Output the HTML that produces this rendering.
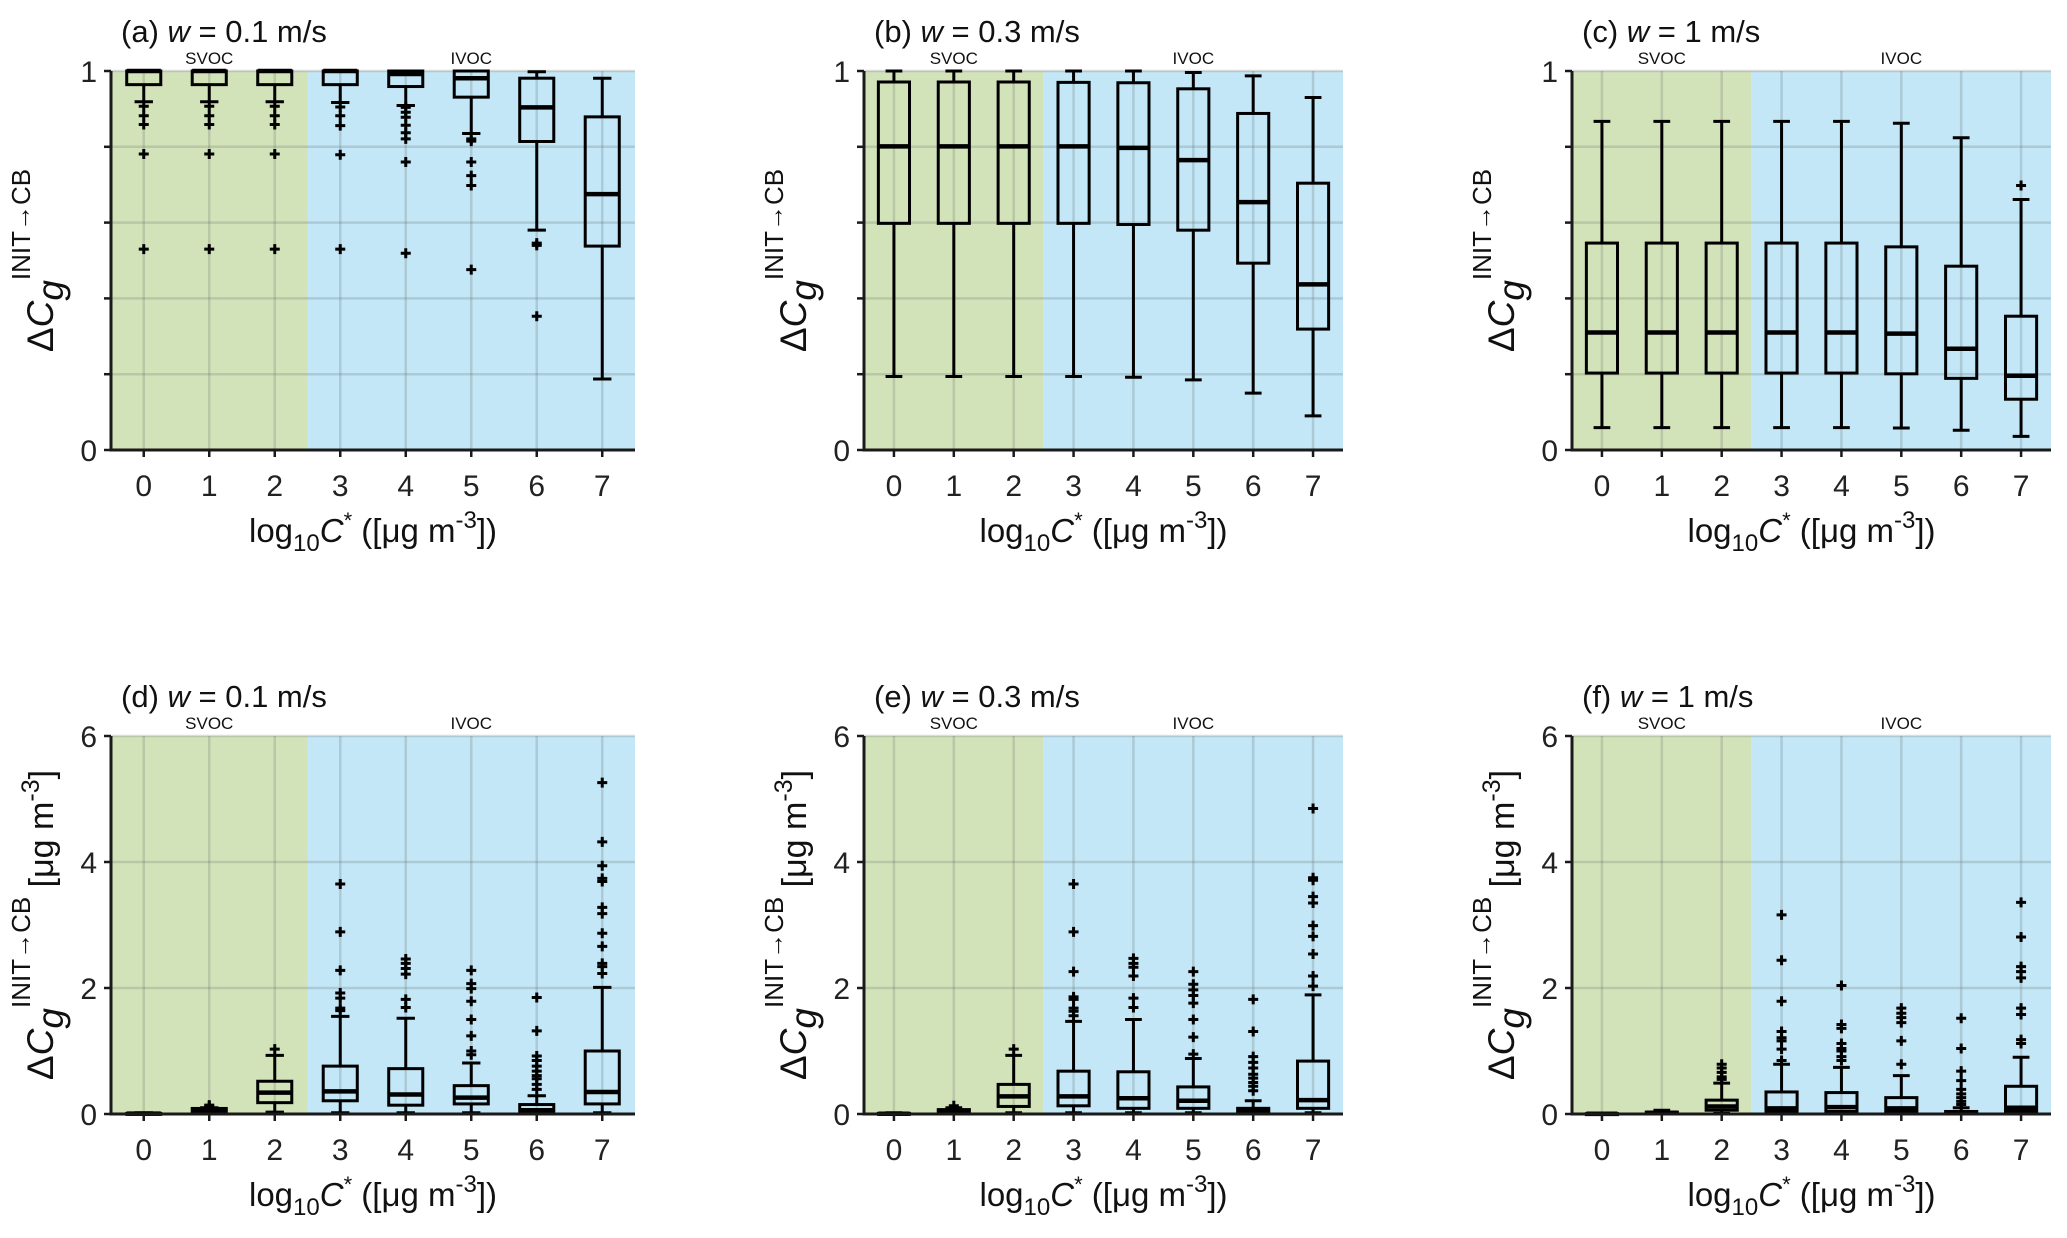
<!DOCTYPE html>
<html><head><meta charset="utf-8"><style>
html,body{margin:0;padding:0;background:#fff}
svg{display:block;font-family:"Liberation Sans",Arial,sans-serif}
</style></head><body>
<svg id="fig" width="2067" height="1238" viewBox="0 0 2067 1238" xmlns="http://www.w3.org/2000/svg"></svg>
<script>
const categories=[0,1,2,3,4,5,6,7];
// Panel a (fraction)
const aMed=[1,1,1,1,0.992,0.981,0.904,0.675];
const aQ1=[0.964,0.964,0.964,0.964,0.959,0.931,0.814,0.538];
const aQ3=[1,1,1,1,1,1,0.981,0.879];
const aLo=[0.919,0.919,0.919,0.917,0.909,0.835,0.580,0.1875];
const aHi=[1,1,1,1,1,1,0.998,0.981];
const aOut=[[0.907,0.882,0.859,0.781,0.530],[0.907,0.882,0.859,0.781,0.530],[0.907,0.882,0.859,0.781,0.530],[0.905,0.882,0.856,0.779,0.530],[0.904,0.891,0.878,0.857,0.837,0.821,0.760,0.519],[0.821,0.815,0.760,0.724,0.698,0.476],[0.546,0.540,0.353],[]];
// Panel b
const bMed=[0.801,0.801,0.801,0.801,0.797,0.765,0.654,0.437];
const bQ1=[0.598,0.598,0.598,0.598,0.595,0.580,0.493,0.319];
const bQ3=[0.971,0.971,0.971,0.970,0.969,0.953,0.888,0.704];
const bLo=[0.194,0.194,0.194,0.194,0.192,0.185,0.150,0.090];
const bHi=[1,1,1,1,1,0.996,0.987,0.930];
const bOut=[[],[],[],[],[],[],[],[]];
// Panel c
const cMed=[0.310,0.310,0.310,0.310,0.310,0.307,0.267,0.196];
const cQ1=[0.203,0.203,0.203,0.203,0.203,0.201,0.189,0.134];
const cQ3=[0.546,0.546,0.546,0.546,0.546,0.536,0.485,0.353];
const cLo=[0.059,0.059,0.059,0.059,0.059,0.058,0.052,0.036];
const cHi=[0.867,0.867,0.867,0.867,0.867,0.862,0.824,0.661];
const cOut=[[],[],[],[],[],[],[],[0.698]];
// Panel d (ug m-3)
const dMed=[0.005,0.065,0.34,0.36,0.31,0.26,0.06,0.35];
const dQ1=[0,0.047,0.18,0.21,0.14,0.16,0.02,0.16];
const dQ3=[0.01,0.088,0.52,0.76,0.72,0.45,0.15,1.0];
const dLo=[0,0.03,0.03,0.02,0.02,0.02,0,0.02];
const dHi=[0.02,0.10,0.93,1.55,1.52,0.81,0.29,2.01];
const dOut=[[],[0.12,0.14],[1.03],[3.65,2.89,2.28,1.92,1.84,1.68,1.64],[2.46,2.39,2.31,2.22,1.82,1.69],[2.28,2.07,1.99,1.79,1.5,1.24,1.0,0.94],[1.85,1.32,0.92,0.85,0.76,0.68,0.61,0.56,0.47,0.39],[5.26,4.32,3.94,3.74,3.69,3.28,3.18,2.87,2.66,2.39,2.34,2.23]];
// Panel e
const eMed=[0.004,0.04,0.28,0.28,0.25,0.21,0.04,0.22];
const eQ1=[0,0.02,0.12,0.13,0.09,0.09,0.01,0.09];
const eQ3=[0.01,0.07,0.47,0.68,0.67,0.43,0.09,0.84];
const eLo=[0,0.01,0.02,0.02,0.02,0.02,0,0.02];
const eHi=[0.02,0.10,0.93,1.47,1.5,0.88,0.21,1.89];
const eOut=[[],[0.13],[1.03],[3.65,2.89,2.26,1.86,1.82,1.68,1.63,1.56],[2.47,2.39,2.33,2.19,1.84,1.69],[2.26,2.06,1.97,1.88,1.76,1.5,1.22,0.95],[1.82,1.31,0.91,0.82,0.73,0.63,0.57,0.5,0.44,0.37],[4.85,3.75,3.71,3.45,3.35,2.99,2.82,2.54,2.19,2.03]];
// Panel f
const fMed=[0.003,0.02,0.12,0.09,0.11,0.09,0.02,0.10];
const fQ1=[0,0.01,0.06,0.04,0.04,0.035,0.01,0.04];
const fQ3=[0.006,0.03,0.22,0.35,0.34,0.26,0.04,0.44];
const fLo=[0,0,0.01,0.01,0.01,0.01,0,0.01];
const fHi=[0.01,0.06,0.49,0.79,0.74,0.61,0.10,0.90];
const fOut=[[],[],[0.79,0.73,0.66,0.59,0.55],[3.16,2.44,1.79,1.31,1.21,1.16,1.03,0.85],[2.04,1.42,1.36,1.12,1.04,1.0,0.91,0.85],[1.68,1.6,1.53,1.45,1.16,0.79],[1.52,1.04,0.68,0.53,0.39,0.32,0.26,0.2,0.15],[3.36,2.81,2.34,2.26,2.16,1.68,1.58,1.18,1.12]];
const topTicks=[0,1];
const topGrid=[0.2,0.4,0.6,0.8,1];
const botTicks=[0,2,4,6];
const botGrid=[2,4,6];

const NS="http://www.w3.org/2000/svg";
const svg=document.getElementById('fig');
function mk(tag,attrs,parent){const e=document.createElementNS(NS,tag);for(const k in attrs)e.setAttribute(k,attrs[k]);(parent||svg).appendChild(e);return e;}

function drawPanel(p){
  const g=mk('g',{});
  
  
  const L=p.L,R=p.R,T=p.T,B=p.B;
  const xs=v=>L+(v+0.5)/8*(R-L);
  const ys=v=>B-(v-p.ymin)/(p.ymax-p.ymin)*(B-T);
  const unit=(R-L)/8;
  const sv=mk('rect',{x:L,y:T,width:xs(2.5)-L,height:B-T,fill:'#d3e3b9'},g);
  
  
  const iv=mk('rect',{x:xs(2.5),y:T,width:R-xs(2.5),height:B-T,fill:'#c3e7f7'},g);
  
  
  p.grid.forEach(v=>{const l=mk('line',{x1:L,x2:R,y1:ys(v),y2:ys(v),stroke:'rgba(90,100,100,0.22)','stroke-width':2.5},g);
    });
  categories.forEach(c=>{const l=mk('line',{x1:xs(c),x2:xs(c),y1:T,y2:B,stroke:'rgba(90,100,100,0.22)','stroke-width':2.5},g);
    });
  categories.forEach((c,i)=>{
    const bg=mk('g',{},g);
    
    
    const cx=xs(c),hw=unit*0.26,cw=unit*0.14;
    mk('line',{x1:cx,x2:cx,y1:ys(p.hi[i]),y2:ys(p.q3[i]),stroke:'#000','stroke-width':3},bg);
    mk('line',{x1:cx,x2:cx,y1:ys(p.q1[i]),y2:ys(p.lo[i]),stroke:'#000','stroke-width':3},bg);
    mk('line',{x1:cx-cw,x2:cx+cw,y1:ys(p.hi[i]),y2:ys(p.hi[i]),stroke:'#000','stroke-width':3},bg);
    mk('line',{x1:cx-cw,x2:cx+cw,y1:ys(p.lo[i]),y2:ys(p.lo[i]),stroke:'#000','stroke-width':3},bg);
    mk('rect',{x:cx-hw,y:ys(p.q3[i]),width:2*hw,height:Math.max(ys(p.q1[i])-ys(p.q3[i]),1),fill:'none',stroke:'#000','stroke-width':3},bg);
    mk('line',{x1:cx-hw,x2:cx+hw,y1:ys(p.med[i]),y2:ys(p.med[i]),stroke:'#000','stroke-width':4.5},bg);
    p.out[i].forEach(v=>{
      const o=mk('path',{d:`M${cx-5},${ys(v)}h10M${cx},${ys(v)-5}v10`,stroke:'#000','stroke-width':3},bg);
      
      
    });
  });
  const ax=mk('path',{d:`M${L},${T}V${B}H${R}`,fill:'none',stroke:'#1a1a1a','stroke-width':3},g);
  
  categories.forEach(c=>{
    mk('line',{x1:xs(c),x2:xs(c),y1:B,y2:B+7,stroke:'#1a1a1a','stroke-width':2.5},g);
    const t=mk('text',{x:xs(c),y:B+46,'text-anchor':'middle','font-size':30,fill:'#222'},g);
    t.textContent=c;
    
  });
  [p.ymin].concat(p.grid).forEach(v=>mk('line',{x1:L-7,x2:L,y1:ys(v),y2:ys(v),stroke:'#1a1a1a','stroke-width':2.5},g));
  p.ticks.forEach(v=>{
    const t=mk('text',{x:L-14,y:ys(v)+11,'text-anchor':'end','font-size':30,fill:'#222'},g);
    t.textContent=v;
    
  });
  const s1=mk('text',{x:xs(1),y:T-7,'text-anchor':'middle','font-size':17,fill:'#111'},g);s1.textContent='SVOC';
  
  const s2=mk('text',{x:xs(5),y:T-7,'text-anchor':'middle','font-size':17,fill:'#111'},g);s2.textContent='IVOC';
  
  const ti=mk('text',{x:L+10,y:T-29,'font-size':31,fill:'#111'},g);
  ti.innerHTML=`${p.lbl} <tspan font-style="italic">w</tspan> = ${p.w} m/s`;
  
  const xl=mk('text',{x:(L+R)/2,y:B+92,'text-anchor':'middle','font-size':33,fill:'#111'},g);
  xl.innerHTML='log<tspan dy="9" font-size="24">10</tspan><tspan dy="-9" font-style="italic">C</tspan><tspan dy="-14" font-size="22">*</tspan><tspan dy="14"> ([μg m</tspan><tspan dy="-14" font-size="24">-3</tspan><tspan dy="14">])</tspan>';
  
  const yc=(T+B)/2, yx=L-58;
  const yl=mk('text',{x:0,y:0,'text-anchor':'middle','font-size':37,fill:'#111',transform:`translate(${yx},${yc}) rotate(-90)`},g);
  yl.innerHTML='Δ<tspan font-style="italic">C</tspan><tspan dy="10" font-style="italic">g</tspan><tspan dy="-33" font-size="26">INIT→CB</tspan>'+(p.unit?'<tspan dy="23" font-size="34"> [μg m</tspan><tspan dy="-14" font-size="25">-3</tspan><tspan dy="14" font-size="34">]</tspan>':'');
  
}
const cols=[{L:111,R:635},{L:864,R:1343},{L:1572,R:2051}];
drawPanel({id:'a',lbl:'(a)',w:'0.1',...cols[0],T:71,B:450,ymin:0,ymax:1,grid:topGrid,ticks:topTicks,med:aMed,q1:aQ1,q3:aQ3,lo:aLo,hi:aHi,out:aOut});
drawPanel({id:'b',lbl:'(b)',w:'0.3',...cols[1],T:71,B:450,ymin:0,ymax:1,grid:topGrid,ticks:topTicks,med:bMed,q1:bQ1,q3:bQ3,lo:bLo,hi:bHi,out:bOut});
drawPanel({id:'c',lbl:'(c)',w:'1',...cols[2],T:71,B:450,ymin:0,ymax:1,grid:topGrid,ticks:topTicks,med:cMed,q1:cQ1,q3:cQ3,lo:cLo,hi:cHi,out:cOut});
drawPanel({id:'d',lbl:'(d)',w:'0.1',...cols[0],T:736,B:1114,ymin:0,ymax:6,grid:botGrid,ticks:botTicks,med:dMed,q1:dQ1,q3:dQ3,lo:dLo,hi:dHi,out:dOut,unit:true});
drawPanel({id:'e',lbl:'(e)',w:'0.3',...cols[1],T:736,B:1114,ymin:0,ymax:6,grid:botGrid,ticks:botTicks,med:eMed,q1:eQ1,q3:eQ3,lo:eLo,hi:eHi,out:eOut,unit:true});
drawPanel({id:'f',lbl:'(f)',w:'1',...cols[2],T:736,B:1114,ymin:0,ymax:6,grid:botGrid,ticks:botTicks,med:fMed,q1:fQ1,q3:fQ3,lo:fLo,hi:fHi,out:fOut,unit:true});
</script>
</body></html>
